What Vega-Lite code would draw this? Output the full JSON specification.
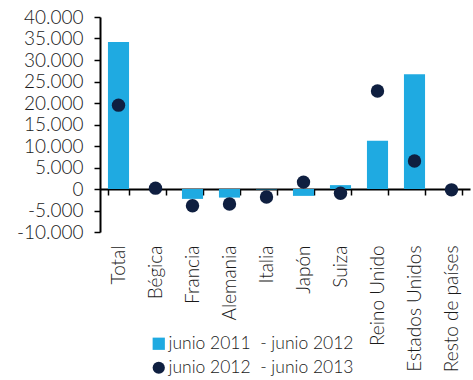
{
  "$schema": "https://vega.github.io/schema/vega-lite/v6.json",
  "width": 370,
  "height": 215,
  "autosize": {"type": "none"},
  "padding": {"left": 100, "top": 17, "right": 3, "bottom": 148},
  "config": {
    "view": {"stroke": null},
    "font": "Lato",
    "locale": {
      "number": {"decimal": ",", "thousands": ".", "grouping": [3], "currency": ["", " €"], "minus": "-"}
    },
    "axis": {"labelFont": "Lato", "labelColor": "#1a1a1a", "labelFontWeight": 300},
    "legend": {"labelFont": "Lato", "labelColor": "#1a1a1a", "labelFontWeight": 300}
  },
  "data": {
    "values": [
      {"pais": "Total", "serie": "junio 2011 \u00a0- junio 2012", "valor": 34200},
      {"pais": "Bégica", "serie": "junio 2011 \u00a0- junio 2012", "valor": 0},
      {"pais": "Francia", "serie": "junio 2011 \u00a0- junio 2012", "valor": -2300},
      {"pais": "Alemania", "serie": "junio 2011 \u00a0- junio 2012", "valor": -2000},
      {"pais": "Italia", "serie": "junio 2011 \u00a0- junio 2012", "valor": -100},
      {"pais": "Japón", "serie": "junio 2011 \u00a0- junio 2012", "valor": -1600},
      {"pais": "Suiza", "serie": "junio 2011 \u00a0- junio 2012", "valor": 900},
      {"pais": "Reino Unido", "serie": "junio 2011 \u00a0- junio 2012", "valor": 11200},
      {"pais": "Estados Unidos", "serie": "junio 2011 \u00a0- junio 2012", "valor": 26700},
      {"pais": "Resto de países", "serie": "junio 2011 \u00a0- junio 2012", "valor": 0},
      {"pais": "Total", "serie": "junio 2012 \u00a0- junio 2013", "valor": 19500},
      {"pais": "Bégica", "serie": "junio 2012 \u00a0- junio 2013", "valor": 200},
      {"pais": "Francia", "serie": "junio 2012 \u00a0- junio 2013", "valor": -3900},
      {"pais": "Alemania", "serie": "junio 2012 \u00a0- junio 2013", "valor": -3500},
      {"pais": "Italia", "serie": "junio 2012 \u00a0- junio 2013", "valor": -1850},
      {"pais": "Japón", "serie": "junio 2012 \u00a0- junio 2013", "valor": 1600},
      {"pais": "Suiza", "serie": "junio 2012 \u00a0- junio 2013", "valor": -1000},
      {"pais": "Reino Unido", "serie": "junio 2012 \u00a0- junio 2013", "valor": 22800},
      {"pais": "Estados Unidos", "serie": "junio 2012 \u00a0- junio 2013", "valor": 6500},
      {"pais": "Resto de países", "serie": "junio 2012 \u00a0- junio 2013", "valor": -200}
    ]
  },
  "encoding": {
    "x": {
      "field": "pais",
      "type": "nominal",
      "sort": null,
      "scale": {"paddingInner": 0.43, "paddingOuter": 0.215},
      "title": null
    },
    "y": {
      "field": "valor",
      "type": "quantitative",
      "scale": {"domain": [-10000, 40000], "nice": false, "zero": false},
      "title": null,
      "axis": {
        "values": [-10000, -5000, 0, 5000, 10000, 15000, 20000, 25000, 30000, 35000, 40000],
        "format": ",d",
        "grid": false,
        "domainColor": "#000000",
        "domainWidth": 2,
        "tickColor": "#000000",
        "tickWidth": 1.5,
        "tickSize": 6,
        "labelFontSize": 19,
        "labelPadding": 11
      }
    }
  },
  "layer": [
    {
      "transform": [{"filter": "indexof(datum.serie, '2011') >= 0"}],
      "mark": {"type": "bar"},
      "encoding": {
        "color": {
          "field": "serie",
          "type": "nominal",
          "scale": {
            "domain": ["junio 2011 \u00a0- junio 2012", "junio 2012 \u00a0- junio 2013"],
            "range": ["#1faae1", "#0f1f40"]
          },
          "legend": {
            "title": null,
            "orient": "none",
            "legendX": 50,
            "legendY": 318,
            "labelFontSize": 17.5,
            "labelLimit": 400,
            "symbolSize": 150,
            "rowPadding": 5,
            "symbolStrokeWidth": 0,
            "labelOffset": 1
          }
        },
        "x": {
          "field": "pais",
          "type": "nominal",
          "sort": null,
          "axis": {
            "orient": "bottom",
            "domain": false,
            "ticks": false,
            "labelAngle": -90,
            "labelFontSize": 19,
            "labelPadding": 13,
            "labelLimit": 200
          }
        }
      }
    },
    {
      "transform": [{"filter": "indexof(datum.serie, '2013') >= 0"}],
      "mark": {"type": "point", "filled": true, "opacity": 1, "size": 180},
      "encoding": {
        "color": {"field": "serie", "type": "nominal"},
        "shape": {
          "field": "serie",
          "type": "nominal",
          "scale": {
            "domain": ["junio 2011 \u00a0- junio 2012", "junio 2012 \u00a0- junio 2013"],
            "range": ["square", "circle"]
          }
        },
        "x": {
          "field": "pais",
          "type": "nominal",
          "sort": null,
          "axis": {
            "orient": "bottom",
            "offset": -43,
            "labels": false,
            "domainColor": "#000000",
            "domainWidth": 2,
            "tickColor": "#000000",
            "tickWidth": 1.5,
            "tickSize": 6,
            "tickBand": "extent"
          }
        }
      }
    }
  ],
  "resolve": {"axis": {"x": "independent"}}
}
